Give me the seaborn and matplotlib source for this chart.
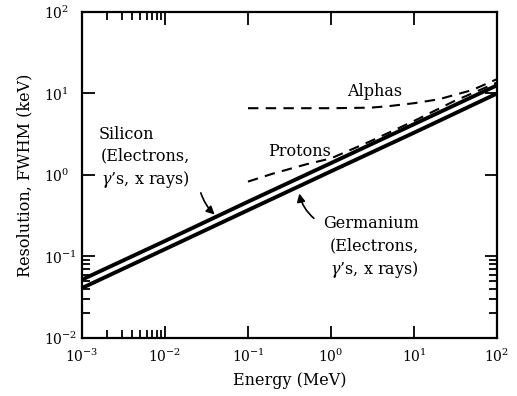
import matplotlib
matplotlib.use("Agg")
import matplotlib.pyplot as plt
from matplotlib.ticker import LogLocator, FixedLocator, NullFormatter
import pandas as pd
import seaborn as sns

# --- Data (energy in MeV, FWHM in keV) ---
energy_line = [1e-3, 1e-2, 1e-1, 1e0, 1e1, 1e2]
fwhm_silicon = [0.052, 0.155, 0.47, 1.4, 4.2, 12.6]
fwhm_germanium = [0.041, 0.123, 0.37, 1.11, 3.3, 10.0]

energy_protons = [0.1, 0.2, 0.5, 1, 3, 10, 30, 100]
fwhm_protons = [0.83, 1.04, 1.35, 1.6, 2.6, 4.6, 8.0, 13.6]

energy_alphas = [0.1, 0.3, 1, 3, 5, 10, 20, 50, 100]
fwhm_alphas = [6.6, 6.6, 6.6, 6.7, 7.0, 7.6, 8.5, 11.0, 15.0]

minor_x = [2e-3, 3e-3, 4e-3, 5e-3, 6e-3, 7e-3, 8e-3, 9e-3]
minor_y = [2e-2, 3e-2, 4e-2, 5e-2, 6e-2, 7e-2, 8e-2, 9e-2]

sns.set_style("ticks")
plt.rcParams["font.family"] = ["DejaVu Serif"]
plt.rcParams["mathtext.fontset"] = "dejavuserif"
plt.rcParams["text.color"] = "black"
plt.rcParams["axes.labelcolor"] = "black"
plt.rcParams["xtick.color"] = "black"
plt.rcParams["ytick.color"] = "black"

fig = plt.figure(figsize=(5.17, 3.96), dpi=100)
ax = fig.add_axes([0.1586, 0.1465, 0.8027, 0.8232])

si = pd.DataFrame({"energy": energy_line, "fwhm": fwhm_silicon})
ge = pd.DataFrame({"energy": energy_line, "fwhm": fwhm_germanium})
pr = pd.DataFrame({"energy": energy_protons, "fwhm": fwhm_protons})
al = pd.DataFrame({"energy": energy_alphas, "fwhm": fwhm_alphas})

sns.lineplot(data=si, x="energy", y="fwhm", color="black", lw=2.8, ax=ax)
sns.lineplot(data=ge, x="energy", y="fwhm", color="black", lw=2.8, ax=ax)
sns.lineplot(data=pr, x="energy", y="fwhm", color="black", lw=1.5,
             ax=ax).lines[-1].set_dashes([5, 3.5])
sns.lineplot(data=al, x="energy", y="fwhm", color="black", lw=1.5,
             ax=ax).lines[-1].set_dashes([5, 3.5])

ax.set(xscale="log", yscale="log", xlim=(1e-3, 1e2), ylim=(1e-2, 1e2))
ax.xaxis.set_major_locator(LogLocator(base=10, numticks=10))
ax.yaxis.set_major_locator(LogLocator(base=10, numticks=10))
ax.xaxis.set_minor_locator(FixedLocator(minor_x))
ax.yaxis.set_minor_locator(FixedLocator(minor_y))
ax.xaxis.set_minor_formatter(NullFormatter())
ax.yaxis.set_minor_formatter(NullFormatter())
ax.tick_params(which="both", direction="in", top=True, right=True,
               width=1.3, labelsize=10)
ax.tick_params(which="major", length=9)
ax.tick_params(which="minor", length=6)
ax.tick_params(axis="x", pad=7)
ax.tick_params(axis="y", pad=27)
for lab in ax.get_yticklabels():
    lab.set_horizontalalignment("left")
for s in ax.spines.values():
    s.set_linewidth(1.6)
    s.set_color("black")

ax.set_xlabel("Energy (MeV)", fontsize=11.5, labelpad=5)
ax.set_ylabel("Resolution, FWHM (keV)", fontsize=11.5, labelpad=8)

txt = dict(fontsize=11.5, ha="left", va="top", linespacing=1.3)
ax.text(0.0016, 4.0, "Silicon", **txt)
ax.text(0.0017, 2.2, "(Electrons,\n$\\gamma$’s, x rays)", **txt)
ax.text(0.8, 0.32, "Germanium", **txt)
ax.text(0.97, 0.17, "(Electrons,\n$\\gamma$’s, x rays)", **txt)
ax.text(0.174, 2.5, "Protons", **txt)
ax.text(1.55, 13.4, "Alphas", **txt)

ax.annotate("", xy=(0.042, 0.31), xytext=(0.0264, 0.65),
            arrowprops=dict(arrowstyle="-|>", color="black", lw=1.2,
                            connectionstyle="arc3,rad=0.15", mutation_scale=12))
ax.annotate("", xy=(0.41, 0.64), xytext=(0.66, 0.28),
            arrowprops=dict(arrowstyle="-|>", color="black", lw=1.2,
                            connectionstyle="arc3,rad=-0.2", mutation_scale=12))

fig.savefig("out.png", dpi=100)
